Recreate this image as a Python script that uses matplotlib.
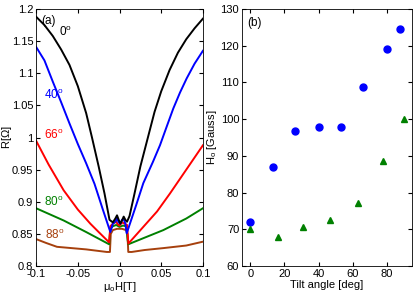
import matplotlib
matplotlib.use('Agg')
import matplotlib.pyplot as plt

plt.rcParams['font.family'] = ['Liberation Sans', 'DejaVu Sans']
plt.rcParams['mathtext.default'] = 'regular'

# (a) resistance vs field, one curve per tilt angle
h_0 = [-0.1, -0.09, -0.08, -0.07, -0.06, -0.05, -0.04, -0.033, -0.025, -0.018, -0.012,
       -0.008, -0.005, -0.003, -0.001, 0.001, 0.003, 0.005, 0.007, 0.009, 0.012, 0.018,
       0.025, 0.034, 0.042, 0.05, 0.06, 0.07, 0.08, 0.09, 0.1]
r_0 = [1.188, 1.175, 1.158, 1.137, 1.113, 1.08, 1.038, 1.0, 0.955, 0.913, 0.872,
       0.868, 0.874, 0.879, 0.872, 0.866, 0.871, 0.877, 0.872, 0.869, 0.878, 0.913,
       0.955, 1.0, 1.04, 1.072, 1.105, 1.132, 1.153, 1.17, 1.185]

h_40 = [-0.1, -0.09, -0.08, -0.07, -0.06, -0.05, -0.04, -0.03, -0.02, -0.011, -0.008,
        -0.005, -0.003, -0.001, 0.001, 0.003, 0.005, 0.007, 0.0086, 0.02, 0.0285, 0.04,
        0.0485, 0.056, 0.0644, 0.0725, 0.0805, 0.09, 0.1]
r_40 = [1.141, 1.12, 1.087, 1.055, 1.022, 0.99, 0.96, 0.928, 0.888, 0.853, 0.866,
        0.869, 0.874, 0.868, 0.866, 0.872, 0.873, 0.866, 0.851, 0.895, 0.929, 0.962,
        0.988, 1.015, 1.045, 1.07, 1.092, 1.115, 1.135]

h_66 = [-0.1, -0.085, -0.067, -0.05, -0.035, -0.025, -0.0125, -0.011, -0.008, -0.004,
        -0.002, 0.0, 0.003, 0.006, 0.009, 0.0106, 0.0285, 0.045, 0.0605, 0.08, 0.1]
r_66 = [0.995, 0.958, 0.918, 0.888, 0.866, 0.853, 0.837, 0.862, 0.866, 0.869,
        0.865, 0.863, 0.868, 0.866, 0.864, 0.835, 0.861, 0.885, 0.913, 0.95, 0.988]

h_80 = [-0.1, -0.067, -0.04, -0.0125, -0.011, -0.008, -0.004, 0.0, 0.004, 0.008, 0.0098,
        0.0106, 0.0525, 0.08, 0.1]
r_80 = [0.89, 0.871, 0.853, 0.834, 0.858, 0.862, 0.864, 0.861, 0.863, 0.862, 0.84,
        0.834, 0.856, 0.874, 0.89]

h_88 = [-0.1, -0.088, -0.075, -0.04, -0.0153, -0.0115, -0.0105, -0.008, -0.003, 0.003,
        0.008, 0.0095, 0.0105, 0.0146, 0.03, 0.0525, 0.08, 0.1]
r_88 = [0.842, 0.836, 0.83, 0.826, 0.822, 0.822, 0.85, 0.856, 0.858, 0.858,
        0.856, 0.85, 0.822, 0.822, 0.825, 0.828, 0.832, 0.838]

# (b) characteristic field vs tilt angle
tilt_circ = [0, 13, 26, 40, 53, 66, 80, 88]
hc_circ = [72, 87, 96.8, 98, 98, 108.8, 119, 124.6]
tilt_tri = [0, 16, 31, 47, 63, 78, 90]
hc_tri = [70, 68, 70.6, 72.6, 77.2, 88.6, 100]

green = (0, 0.5, 0)
brown = (0.65, 0.25, 0.05)

fig = plt.figure(figsize=(4.15, 3.0), dpi=100)
ax1 = fig.add_axes([0.087, 0.113, 0.402, 0.857])
ax2 = fig.add_axes([0.583, 0.113, 0.410, 0.857])

ax1.plot(h_88, r_88, color=brown, lw=1.4)
ax1.plot(h_80, r_80, color=green, lw=1.4)
ax1.plot(h_66, r_66, color='red', lw=1.4)
ax1.plot(h_40, r_40, color='blue', lw=1.4)
ax1.plot(h_0, r_0, color='black', lw=1.4)

ax1.set_xlim(-0.1, 0.1)
ax1.set_ylim(0.8, 1.2)
ax1.set_xticks([-0.1, -0.05, 0, 0.05, 0.1])
ax1.set_xticklabels(['-0.1', '-0.05', '0', '0.05', '0.1'])
ax1.set_yticks([0.8, 0.85, 0.9, 0.95, 1, 1.05, 1.1, 1.15, 1.2])
ax1.set_yticklabels(['0.8', '0.85', '0.9', '0.95', '1', '1.05', '1.1', '1.15', '1.2'])
ax1.set_xlabel('$\\mu_o$H[T]', fontsize=8, labelpad=1)
ax1.set_ylabel('R[$\\Omega$]', fontsize=8)
ax1.yaxis.set_label_coords(-0.135, 0.5)

ax1.text(-0.094, 1.177, '(a)', fontsize=8.5)
ax1.text(-0.073, 1.158, '0$^o$', fontsize=8.5, color='black')
ax1.text(-0.091, 1.06, '40$^o$', fontsize=8.5, color='blue')
ax1.text(-0.091, 0.998, '66$^o$', fontsize=8.5, color='red')
ax1.text(-0.09, 0.894, '80$^o$', fontsize=8.5, color=green)
ax1.text(-0.089, 0.842, '88$^o$', fontsize=8.5, color=brown)

ax2.plot(tilt_circ, hc_circ, 'o', color='blue', ms=5)
ax2.plot(tilt_tri, hc_tri, '^', color=green, ms=5)
ax2.set_xlim(-5, 95)
ax2.set_ylim(60, 130)
ax2.set_xticks([0, 20, 40, 60, 80])
ax2.set_yticks(range(60, 131, 10))
ax2.set_xlabel('Tilt angle [deg]', fontsize=8, labelpad=1)
ax2.set_ylabel('H$_o$ [Gauss]', fontsize=8)
ax2.yaxis.set_label_coords(-0.135, 0.5)
ax2.text(-2, 125.5, '(b)', fontsize=8.5)

for ax in (ax1, ax2):
    ax.tick_params(direction='in', top=True, right=True, labelsize=8, length=3, pad=2)
    for s in ax.spines.values():
        s.set_linewidth(0.6)

fig.savefig('out.png', dpi=100)
plt.close(fig)
